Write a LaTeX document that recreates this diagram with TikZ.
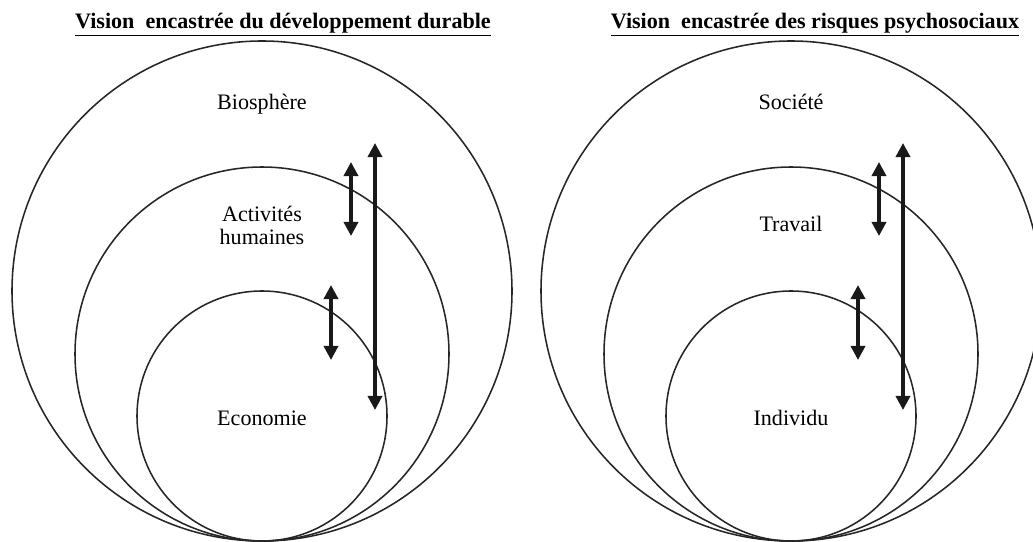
\documentclass[tikz,border=0pt]{standalone}
\usepackage{fontspec}
\setmainfont{Liberation Serif}
\usetikzlibrary{arrows.meta}

\tikzset{
	rond/.style={line width=1.1pt, color=black!85},
	etiq/.style={font=\fontsize{15.7}{16.5}\selectfont, align=center, anchor=base, inner sep=0pt},
	titre/.style={font=\fontsize{15.7}{18}\selectfont\bfseries, anchor=base, inner sep=0pt},
	fleche/.style={{Triangle[length=10pt,width=10pt]}-{Triangle[length=10pt,width=10pt]}, line width=2.4pt, color=black!90}
}

\begin{document}
\begin{tikzpicture}[x=0.025cm, y=0.025cm]
				\useasboundingbox (0,0) rectangle (1033,541);
				%\draw[very thin,color=gray] (0,0) grid[step=50] (1033,541);
				
				% gauche
				\node[titre] (titreG) at (283,512) {\underline{Vision\ \ encastr\'ee\ du\ d\'eveloppement\ durable}};
				\draw[rond] (262,250) circle (250);
				\draw[rond] (262,187) circle (187);
				\draw[rond] (262,125) circle (125);
				\node[etiq] (bio) at (262,431) {Biosph\`ere};
				\node[etiq] (act) at (262,296) {Activit\'es\\humaines};
				\node[etiq] (eco) at (262,116) {Economie};
				
				\coordinate (g1h) at (375,398);
				\coordinate (g1b) at (375,131);
				\coordinate (g2h) at (351,379);
				\coordinate (g2b) at (351,305);
				\coordinate (g3h) at (331,256);
				\coordinate (g3b) at (331,181);
				\draw[fleche] (g1h) -- (g1b);
				\draw[fleche] (g2h) -- (g2b);
				\draw[fleche] (g3h) -- (g3b);
				
				% droite
				\node[titre] (titreD) at (815,512) {\underline{Vision\ \ encastr\'ee\ des\ risques\ psychosociaux}};
				\draw[rond] (791,250) circle (250);
				\draw[rond] (791,187) circle (187);
				\draw[rond] (791,125) circle (125);
				\node[etiq] (soc) at (791,431) {Soci\'et\'e};
				\node[etiq] (trav) at (791,309) {Travail};
				\node[etiq] (indiv) at (791,116) {Individu};
				
				\coordinate (d1h) at (903,398);
				\coordinate (d1b) at (903,131);
				\coordinate (d2h) at (879,379);
				\coordinate (d2b) at (879,305);
				\coordinate (d3h) at (858,256);
				\coordinate (d3b) at (858,181);
				\draw[fleche] (d1h) -- (d1b);
				\draw[fleche] (d2h) -- (d2b);
				\draw[fleche] (d3h) -- (d3b);
			\end{tikzpicture}
\end{document}
